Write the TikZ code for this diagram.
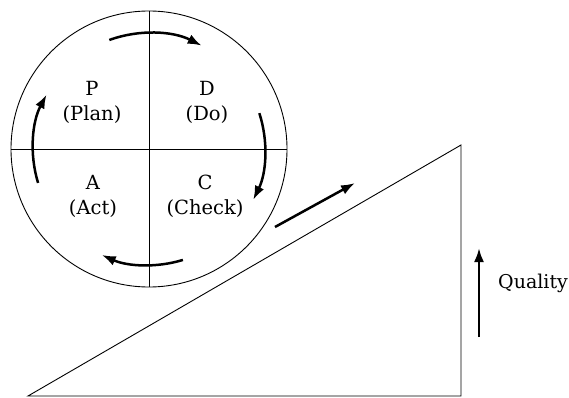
\documentclass[tikz,border=0pt]{standalone}
\usepackage{fontspec}
\setmainfont{DejaVu Serif}
\usepackage{tikz}
\usetikzlibrary{arrows.meta}

\begin{document}
\begin{tikzpicture}[x=1pt,y=-1pt,
  lbl/.style={align=center,font=\fontsize{19.5}{25}\selectfont},
  cyc/.style={line width=2.5pt,-{Latex[length=14pt,width=10pt]}}]
\useasboundingbox (0,0) rectangle (569,398);
% the wheel
\node[circle,draw,line width=0.9pt,minimum size=276pt,inner sep=0pt] (wheel) at (149,149) {};
\draw[line width=0.9pt] (wheel.north) -- (wheel.south);
\draw[line width=0.9pt] (wheel.west) -- (wheel.east);
\node[lbl] (plan) at (92,102) {P\\(Plan)};
\node[lbl] (do) at (207,102) {D\\(Do)};
\node[lbl] (act) at (93,196) {A\\(Act)};
\node[lbl] (check) at (205,196) {C\\(Check)};
% turning arrows
\draw[cyc] (wheel.center) ++(-110:116) arc[start angle=-110,end angle=-63,radius=116];
\draw[cyc] (wheel.center) ++(-18:116) arc[start angle=-18,end angle=26,radius=116];
\draw[cyc] (wheel.center) ++(73:116) arc[start angle=73,end angle=114,radius=116];
\draw[cyc] (wheel.center) ++(163:116) arc[start angle=163,end angle=208,radius=116];
% slope
\coordinate (foot) at (28,396);
\coordinate (top) at (461,145);
\coordinate (corner) at (461,396);
\draw[line width=0.9pt] (foot) -- (top) -- (corner) -- cycle;
\coordinate (up1) at (275,227);
\coordinate (up2) at (355,183);
\draw[cyc] (up1) -- (up2);
% quality
\node[font=\fontsize{19}{24}\selectfont,anchor=west,inner sep=0pt] (quality) at (498,283) {Quality};
\coordinate (q1) at (479,337);
\coordinate (q2) at (479,248);
\draw[cyc] (q1) -- (q2);
\end{tikzpicture}
\end{document}
